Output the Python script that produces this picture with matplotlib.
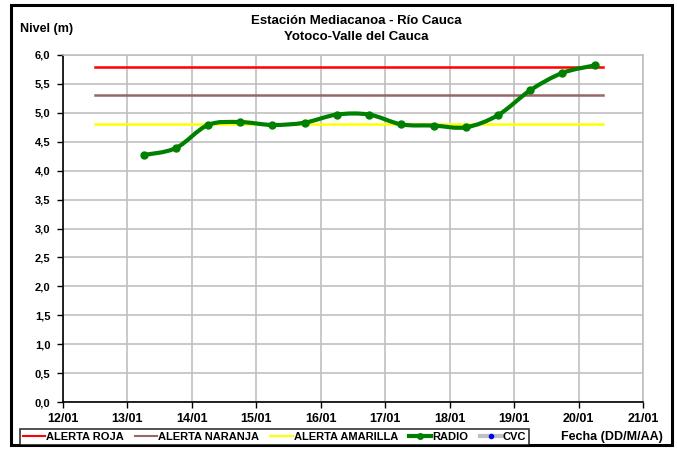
import datetime as dt
import numpy as np
import matplotlib
matplotlib.use("Agg")
import matplotlib.pyplot as plt
import matplotlib.dates as mdates
from matplotlib.path import Path
from matplotlib.patches import PathPatch, Rectangle
from matplotlib.lines import Line2D
from matplotlib.ticker import FuncFormatter, MultipleLocator

plt.rcParams['font.family'] = ['Liberation Sans', 'DejaVu Sans']

# lecturas radio (fecha, nivel m)
fechas = ["13/01 06:00", "13/01 18:00", "14/01 06:00", "14/01 18:00", "15/01 06:00",
          "15/01 18:00", "16/01 06:00", "16/01 18:00", "17/01 06:00", "17/01 18:00",
          "18/01 06:00", "18/01 18:00", "19/01 06:00", "19/01 18:00", "20/01 06:00"]
nivel = [4.27, 4.39, 4.79, 4.84, 4.79, 4.83, 4.97, 4.97, 4.80, 4.78, 4.75, 4.96, 5.39, 5.69, 5.82]

alerta_ini = "12/01 12:00"
alerta_fin = "20/01 09:00"
alerta_roja = 5.8
alerta_naranja = 5.3
alerta_amarilla = 4.8

dias = ["12/01", "13/01", "14/01", "15/01", "16/01", "17/01", "18/01", "19/01", "20/01", "21/01"]


def to_num(s):
    return mdates.date2num(dt.datetime.strptime("2011/" + s, "%Y/%d/%m %H:%M"))


x = np.array([to_num(f) for f in fechas])
y = np.array(nivel)
xd = np.array([to_num(d + " 00:00") for d in dias])

fig = plt.figure(figsize=(6.77, 4.55), dpi=100)
ax = fig.add_axes([63 / 677, 1 - 402 / 455, 580 / 677, 347 / 455])

xa = [to_num(alerta_ini), to_num(alerta_fin)]
ax.plot(xa, [alerta_roja] * 2, color="#ff0000", lw=1.8, zorder=3)
ax.plot(xa, [alerta_naranja] * 2, color="#996666", lw=1.8, zorder=3)
ax.plot(xa, [alerta_amarilla] * 2, color="#ffff00", lw=1.8, zorder=3)

# smoothed line like excel (catmull-rom -> bezier)
verts = [(x[0], y[0])]
codes = [Path.MOVETO]
n = len(x)
for i in range(n - 1):
    p0 = (x[max(i - 1, 0)], y[max(i - 1, 0)])
    p1 = (x[i], y[i])
    p2 = (x[i + 1], y[i + 1])
    p3 = (x[min(i + 2, n - 1)], y[min(i + 2, n - 1)])
    c1 = (p1[0] + (p2[0] - p0[0]) / 6, p1[1] + (p2[1] - p0[1]) / 6)
    c2 = (p2[0] - (p3[0] - p1[0]) / 6, p2[1] - (p3[1] - p1[1]) / 6)
    verts += [c1, c2, p2]
    codes += [Path.CURVE4] * 3
ax.add_patch(PathPatch(Path(verts, codes), fill=False, edgecolor="#008000", lw=3, zorder=4))
ax.plot(x, y, ls="none", marker="o", ms=5, color="#008000", zorder=5)

ax.set_xlim(xd[0], xd[-1])
ax.set_ylim(0, 6)
ax.set_xticks(xd)
ax.set_xticklabels(dias)
ax.yaxis.set_major_locator(MultipleLocator(0.5))
ax.yaxis.set_major_formatter(FuncFormatter(lambda v, p: f"{v:.1f}".replace(".", ",")))
ax.grid(True, color="#c0c0c0", lw=1.2)
ax.set_axisbelow(True)
for s in ["top", "right"]:
    ax.spines[s].set_color("#c0c0c0")
    ax.spines[s].set_linewidth(1.2)
for s in ["left", "bottom"]:
    ax.spines[s].set_color("black")
    ax.spines[s].set_linewidth(1.2)
ax.tick_params(direction="out", length=4, width=1)
ax.tick_params(axis="x", labelsize=9, pad=4)
ax.tick_params(axis="y", labelsize=8, pad=5)
for t in ax.get_xticklabels() + ax.get_yticklabels():
    t.set_fontweight("bold")

fig.text(356 / 677, 1 - 21 / 455, "Estación Mediacanoa - Río Cauca",
         ha="center", va="center", fontsize=9.5, fontweight="bold")
fig.text(356 / 677, 1 - 37 / 455, "Yotoco-Valle del Cauca",
         ha="center", va="center", fontsize=9.5, fontweight="bold")
fig.text(20 / 677, 1 - 29 / 455, "Nivel (m)", ha="left", va="center", fontsize=9, fontweight="bold")
fig.text(663 / 677, 1 - 437 / 455, "Fecha (DD/M/AA)", ha="right", va="center", fontsize=9, fontweight="bold")

handles = [
    Line2D([], [], color="#ff0000", lw=1.5),
    Line2D([], [], color="#996666", lw=1.5),
    Line2D([], [], color="#ffff00", lw=1.5),
    Line2D([], [], color="#008000", lw=3, marker="o", ms=4),
    Line2D([], [], color="#c0c0c0", lw=3, marker="o", ms=3, mfc="#0000ff", mec="#0000ff"),
]
labels = ["ALERTA ROJA", "ALERTA NARANJA", "ALERTA AMARILLA", "RADIO", "CVC"]
leg = fig.legend(handles, labels, loc="center left", bbox_to_anchor=(20 / 677, 1 - 437 / 455),
                 ncol=5, fontsize=8, frameon=True, fancybox=False, handlelength=2.0,
                 handletextpad=0.1, columnspacing=1.0, borderpad=0.25, borderaxespad=0)
leg.get_frame().set_edgecolor("black")
leg.get_frame().set_linewidth(1.2)
for t in leg.get_texts():
    t.set_fontweight("bold")

fig.patches.append(Rectangle((11 / 677, 1 - 445 / 455), 661 / 677, 440 / 455, transform=fig.transFigure,
                             fill=False, edgecolor="black", lw=2.2))

fig.savefig("out.png", dpi=100)
